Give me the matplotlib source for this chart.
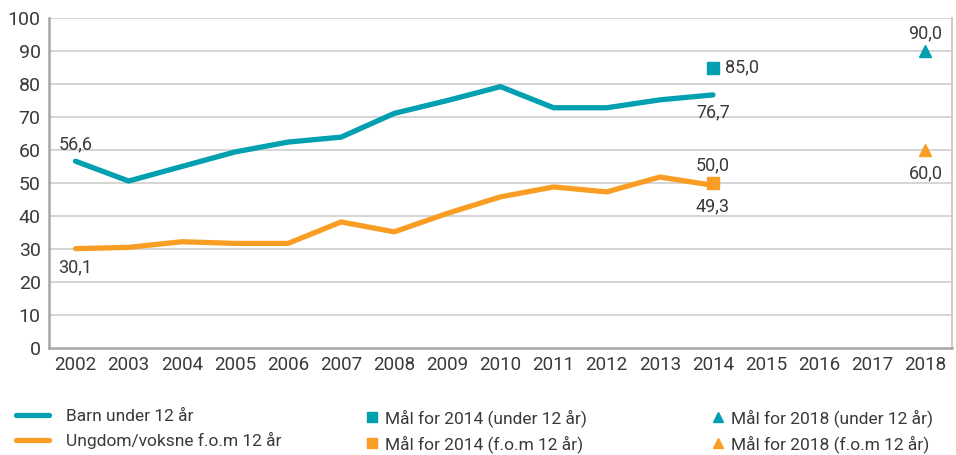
import matplotlib
matplotlib.use("Agg")
import matplotlib.pyplot as plt
from matplotlib.lines import Line2D
import numpy as np

years = [str(y) for y in range(2002, 2019)]
barn_years = years[:13]
barn = [56.6, 50.6, 55.0, 59.4, 62.4, 63.9, 71.1, 75.0, 79.2, 72.8, 72.8, 75.2, 76.7]
ungdom = [30.1, 30.5, 32.2, 31.7, 31.7, 38.2, 35.2, 40.8, 45.8, 48.8, 47.3, 51.8, 49.3]
maal2014 = {"barn": 85.0, "ungdom": 50.0}
maal2018 = {"barn": 90.0, "ungdom": 60.0}
yticks = list(range(0, 101, 10))

teal = "#00A0B0"
orange = "#F99D25"
txt = "#3a3a3a"
font = ["Roboto", "DejaVu Sans"]

fig = plt.figure(figsize=(9.56, 4.55), dpi=100)
ax = fig.add_axes([49/956, 1-348/455, (952-49)/956, (348-18)/455])

x = np.arange(len(years))
xb = np.arange(len(barn_years))

for v in yticks[1:]:
    ax.axhline(v, color="#d2d2d2", lw=1.3, zorder=1)

ax.plot(xb, barn, color=teal, lw=3.8, solid_capstyle="round", solid_joinstyle="round", zorder=3)
ax.plot(xb, ungdom, color=orange, lw=3.8, solid_capstyle="round", solid_joinstyle="round", zorder=3)

i14 = years.index("2014")
i18 = years.index("2018")
ax.plot([i14], [maal2014["barn"]], "s", color=teal, ms=8, zorder=4)
ax.plot([i14], [maal2014["ungdom"]], "s", color=orange, ms=8, zorder=4)
ax.plot([i18], [maal2018["barn"]], "^", color=teal, ms=9, zorder=4)
ax.plot([i18], [maal2018["ungdom"]], "^", color=orange, ms=9, zorder=4)

def fmt(v):
    return f"{v:.1f}".replace(".", ",")

lab_kw = dict(fontsize=13, color=txt, family=font)
ax.annotate(fmt(barn[0]), (0, barn[0]), xytext=(0, 6), textcoords="offset points", ha="center", va="bottom", **lab_kw)
ax.annotate(fmt(ungdom[0]), (0, ungdom[0]), xytext=(0, -7), textcoords="offset points", ha="center", va="top", **lab_kw)
ax.annotate(fmt(barn[-1]), (xb[-1], barn[-1]), xytext=(0, -6), textcoords="offset points", ha="center", va="top", **lab_kw)
ax.annotate(fmt(ungdom[-1]), (xb[-1], ungdom[-1]), xytext=(0, -9), textcoords="offset points", ha="center", va="top", **lab_kw)
ax.annotate(fmt(maal2014["barn"]), (i14, maal2014["barn"]), xytext=(9, 0), textcoords="offset points", ha="left", va="center", **lab_kw)
ax.annotate(fmt(maal2014["ungdom"]), (i14, maal2014["ungdom"]), xytext=(0, 6), textcoords="offset points", ha="center", va="bottom", **lab_kw)
ax.annotate(fmt(maal2018["barn"]), (i18, maal2018["barn"]), xytext=(0, 6), textcoords="offset points", ha="center", va="bottom", **lab_kw)
ax.annotate(fmt(maal2018["ungdom"]), (i18, maal2018["ungdom"]), xytext=(0, -10), textcoords="offset points", ha="center", va="top", **lab_kw)

ax.set_xlim(-0.5, len(years) - 0.5)
ax.set_ylim(0, 100)
ax.set_yticks(yticks)
ax.set_xticks(x)
ax.set_xticklabels(years, family=font, fontsize=13.5, color=txt)
ax.set_yticklabels([str(v) for v in yticks], family=font, fontsize=14, color=txt)
ax.tick_params(length=0, pad=6)

for s in ["left", "bottom", "right"]:
    ax.spines[s].set_color("#a8a6a4")
    ax.spines[s].set_linewidth(1.8)
ax.spines["right"].set_color("#c8c8c8")
ax.spines["right"].set_linewidth(1.3)
ax.spines["top"].set_visible(False)

leg_kw = dict(frameon=False, prop={"family": font, "size": 12.5}, labelcolor=txt,
              labelspacing=0.45, borderpad=0, borderaxespad=0, loc="upper left")
h1 = [Line2D([], [], color=teal, lw=3.8, solid_capstyle="round"),
      Line2D([], [], color=orange, lw=3.8, solid_capstyle="round")]
fig.legend(h1, ["Barn under 12 år", "Ungdom/voksne f.o.m 12 år"],
           bbox_to_anchor=(16/956, 1-409/455), handlelength=1.9, handletextpad=1.0, **leg_kw)
h2 = [Line2D([], [], color=teal, marker="s", ls="none", ms=7),
      Line2D([], [], color=orange, marker="s", ls="none", ms=7)]
fig.legend(h2, ["Mål for 2014 (under 12 år)", "Mål for 2014 (f.o.m 12 år)"],
           bbox_to_anchor=(365/956, 1-409/455), handlelength=0.8, handletextpad=0.35, **leg_kw)
h3 = [Line2D([], [], color=teal, marker="^", ls="none", ms=7),
      Line2D([], [], color=orange, marker="^", ls="none", ms=7)]
fig.legend(h3, ["Mål for 2018 (under 12 år)", "Mål for 2018 (f.o.m 12 år)"],
           bbox_to_anchor=(711/956, 1-409/455), handlelength=0.8, handletextpad=0.35, **leg_kw)

fig.savefig("out.png", dpi=100)
